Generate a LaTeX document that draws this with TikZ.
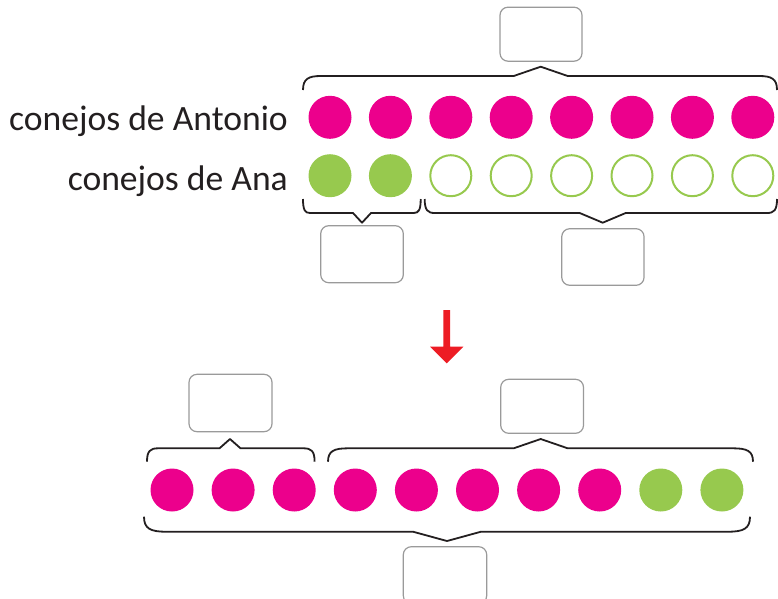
\documentclass[tikz,border=0pt]{standalone}
\usepackage{fontspec}
\setmainfont{Carlito}
\definecolor{pinkc}{HTML}{EC008C}
\definecolor{greenc}{HTML}{97C94E}
\definecolor{boxgray}{HTML}{9A9A9A}
\definecolor{bracec}{HTML}{231F20}
\definecolor{arrowred}{HTML}{ED1C24}
\tikzset{
  pinkdot/.style={circle,fill=pinkc,minimum size=43pt,inner sep=0pt},
  greendot/.style={circle,fill=greenc,minimum size=43pt,inner sep=0pt},
  emptydot/.style={circle,draw=greenc,line width=2pt,minimum size=41pt,inner sep=0pt},
  answerbox/.style={draw=boxgray,line width=1.2pt,rounded corners=8pt,inner sep=0pt},
  bracestyle/.style={draw=bracec,line width=1.8pt,line join=round},
  lbl/.style={font=\fontsize{35.6}{40}\selectfont,text=bracec,inner sep=0pt,anchor=base east}
}
% brace: #1 x0, #2 x1, #3 yline, #4 yend, #5 tipx, #6 ytip, #7 tip half width, #8 curl width
\newcommand{\mybrace}[8]{%
  \draw[bracestyle] (#1,#4) .. controls (#1,{#3+0.2*(#4-#3)}) and ({#1+0.3*#8},#3) .. ({#1+#8},#3)
    -- ({#5-#7},#3) -- (#5,#6) -- ({#5+#7},#3) -- ({#2-#8},#3)
    .. controls ({#2-0.3*#8},#3) and (#2,{#3+0.2*(#4-#3)}) .. (#2,#4);}
\begin{document}
\begin{tikzpicture}[x=1pt,y=-1pt]
\useasboundingbox (0,0) rectangle (778,598);
% labels
\node[lbl] (antonio) at (288,130.7) {conejos de Antonio};
\node[lbl] (ana) at (288,190) {conejos de Ana};
% top rows
\foreach \i in {0,...,7} {
  \node[pinkdot] (a\i) at ({330+60.4*\i},117.3) {};
}
\node[greendot] (b0) at (330,175.7) {};
\node[greendot] (b1) at (390.4,175.7) {};
\foreach \i in {2,...,7} {
  \node[emptydot] (b\i) at ({330+60.4*\i},175.7) {};
}
% top braces
\mybrace{303}{777}{76}{90}{540.7}{66.7}{27}{18}
\mybrace{303}{420.7}{213}{199}{362}{222.7}{9}{7}
\mybrace{424.7}{777}{213}{199}{602.7}{222.7}{23}{10}
% top boxes
\node[answerbox,minimum width=82pt,minimum height=54pt] (box1) at (541,34.2) {};
\node[answerbox,minimum width=82.6pt,minimum height=57pt] (box2) at (362,254.2) {};
\node[answerbox,minimum width=82.3pt,minimum height=56.6pt] (box3) at (602.9,257) {};
% arrow
\coordinate (arrtop) at (446.7,310);
\coordinate (arrbot) at (446.7,363.3);
\fill[arrowred] (443.4,310) -- (450,310) -- (450,346.7) -- (463.3,346.7) -- (arrbot) -- (430,346.7) -- (443.4,346.7) -- cycle;
% bottom row
\foreach \i in {0,...,7} {
  \node[pinkdot] (c\i) at ({172+61.1*\i},490) {};
}
\node[greendot] (c8) at ({172+61.1*8},490) {};
\node[greendot] (c9) at ({172+61.1*9},490) {};
% bottom braces
\mybrace{147}{314.6}{448.3}{461.7}{230}{439}{10.5}{11}
\mybrace{328}{753}{448.3}{461.7}{540.7}{439}{27}{20}
\mybrace{144}{750}{531.7}{516.7}{447}{541}{34}{22}
% bottom boxes
\node[answerbox,minimum width=83pt,minimum height=57.4pt] (box4) at (230.5,403) {};
\node[answerbox,minimum width=82.8pt,minimum height=54pt] (box5) at (542.1,406.3) {};
\node[answerbox,minimum width=83.4pt,minimum height=57pt] (box6) at (445,575.2) {};
\end{tikzpicture}
\end{document}
